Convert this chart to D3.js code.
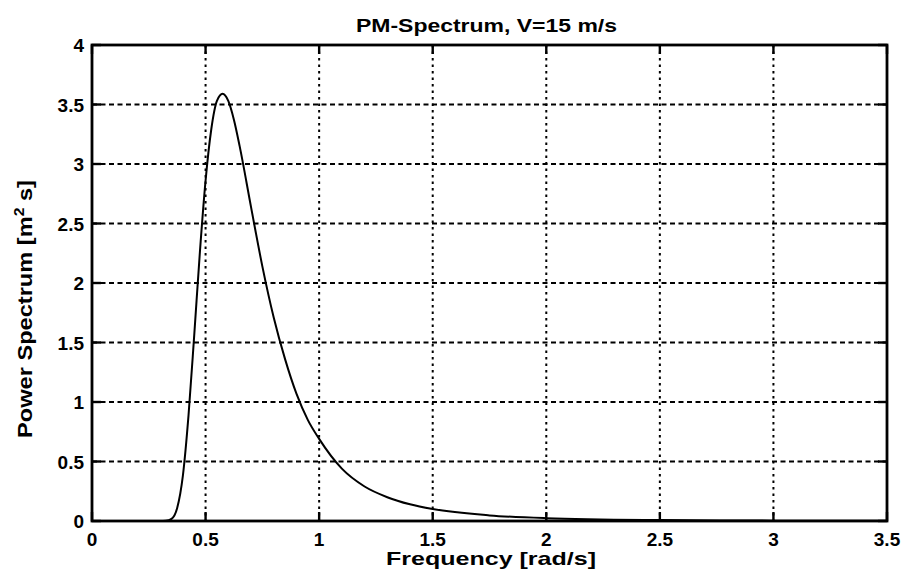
<!DOCTYPE html>
<html>
<head>
<meta charset="utf-8">
<script src="https://cdn.jsdelivr.net/npm/d3@7/dist/d3.min.js"></script>
<style>
  html, body { margin: 0; padding: 0; background: #fff; }
  svg { display: block; }
  text { font-family: Arial, "Liberation Sans", Helvetica, sans-serif; font-weight: bold; fill: #000; }
</style>
</head>
<body>
<svg id="chart" width="902" height="570"></svg>
<script>
// Pierson-Moskowitz spectrum samples, wind speed 15 m/s
const frequency = [0.20, 0.25, 0.30, 0.325, 0.35, 0.375, 0.40, 0.425, 0.45, 0.475,
                   0.50, 0.525, 0.55, 0.575, 0.60, 0.625, 0.65, 0.70, 0.75, 0.80,
                   0.85, 0.90, 0.95, 1.00, 1.10, 1.20, 1.30, 1.40, 1.50, 1.75,
                   2.00, 2.50, 3.00, 3.50];
const power = [0, 0, 0, 0.002, 0.018, 0.11, 0.38, 0.89, 1.56, 2.26,
               2.86, 3.29, 3.53, 3.59, 3.53, 3.37, 3.15, 2.64, 2.14, 1.71,
               1.36, 1.07, 0.85, 0.69, 0.44, 0.29, 0.20, 0.14, 0.10, 0.047,
               0.024, 0.008, 0.003, 0.0015];

const xTicks = [0, 0.5, 1, 1.5, 2, 2.5, 3, 3.5];
const yTicks = [0, 0.5, 1, 1.5, 2, 2.5, 3, 3.5, 4];
const xTickLabels = ["0", "0.5", "1", "1.5", "2", "2.5", "3", "3.5"];
const yTickLabels = ["0", "0.5", "1", "1.5", "2", "2.5", "3", "3.5", "4"];

const titleText = "PM-Spectrum, V=15 m/s";
const xLabelText = "Frequency [rad/s]";

const svg = d3.select("#chart");
const plotL = 92, plotR = 887, plotT = 45, plotB = 521;

const x = d3.scaleLinear().domain([0, 3.5]).range([plotL, plotR]);
const y = d3.scaleLinear().domain([0, 4]).range([plotB, plotT]);

// grid: vertical dotted, horizontal dashed
const grid = svg.append("g").attr("stroke", "#000").attr("stroke-width", 2);
grid.selectAll("line.v").data(xTicks.slice(1, -1)).enter().append("line")
  .attr("x1", d => x(d)).attr("x2", d => x(d))
  .attr("y1", plotT).attr("y2", plotB)
  .attr("stroke-dasharray", "2.5,4");
grid.selectAll("line.h").data(yTicks.slice(1, -1)).enter().append("line")
  .attr("x1", plotL).attr("x2", plotR)
  .attr("y1", d => y(d)).attr("y2", d => y(d))
  .attr("stroke-dasharray", "5,3.5");

// inward ticks on all four sides
const tk = 9;
const ticks = svg.append("g").attr("stroke", "#000").attr("stroke-width", 2.4);
xTicks.forEach(d => {
  ticks.append("line").attr("x1", x(d)).attr("x2", x(d)).attr("y1", plotB).attr("y2", plotB - tk);
  ticks.append("line").attr("x1", x(d)).attr("x2", x(d)).attr("y1", plotT).attr("y2", plotT + tk);
});
yTicks.forEach(d => {
  ticks.append("line").attr("x1", plotL).attr("x2", plotL + tk).attr("y1", y(d)).attr("y2", y(d));
  ticks.append("line").attr("x1", plotR).attr("x2", plotR - tk).attr("y1", y(d)).attr("y2", y(d));
});

// spectrum curve
const line = d3.line()
  .x((d, i) => x(frequency[i]))
  .y(d => y(d))
  .curve(d3.curveMonotoneX);
svg.append("path").datum(power)
  .attr("d", line)
  .attr("fill", "none")
  .attr("stroke", "#000")
  .attr("stroke-width", 2);

// axes box
svg.append("rect")
  .attr("x", plotL).attr("y", plotT)
  .attr("width", plotR - plotL).attr("height", plotB - plotT)
  .attr("fill", "none").attr("stroke", "#000").attr("stroke-width", 2.8);

// tick labels
svg.append("g").selectAll("text").data(xTicks).enter().append("text")
  .attr("x", d => x(d)).attr("y", 546)
  .attr("text-anchor", "middle")
  .attr("font-size", 19)
  .text((d, i) => xTickLabels[i]);
svg.append("g").selectAll("text").data(yTicks).enter().append("text")
  .attr("x", plotL - 8).attr("y", d => y(d) + 7)
  .attr("text-anchor", "end")
  .attr("font-size", 19)
  .text((d, i) => yTickLabels[i]);

// title and axis labels
svg.append("text")
  .attr("x", 356).attr("y", 32)
  .attr("font-size", 19)
  .attr("textLength", 261).attr("lengthAdjust", "spacingAndGlyphs")
  .text(titleText);
svg.append("text")
  .attr("x", 386).attr("y", 565)
  .attr("font-size", 19)
  .attr("textLength", 210).attr("lengthAdjust", "spacingAndGlyphs")
  .text(xLabelText);

const yl = svg.append("text")
  .attr("transform", "translate(32,438) rotate(-90)")
  .attr("font-size", 21)
  .attr("textLength", 258).attr("lengthAdjust", "spacingAndGlyphs");
yl.append("tspan").text("Power Spectrum [m");
yl.append("tspan").attr("dy", -8).attr("font-size", 14).text("2");
yl.append("tspan").attr("dy", 8).text(" s]");
</script>
</body>
</html>
